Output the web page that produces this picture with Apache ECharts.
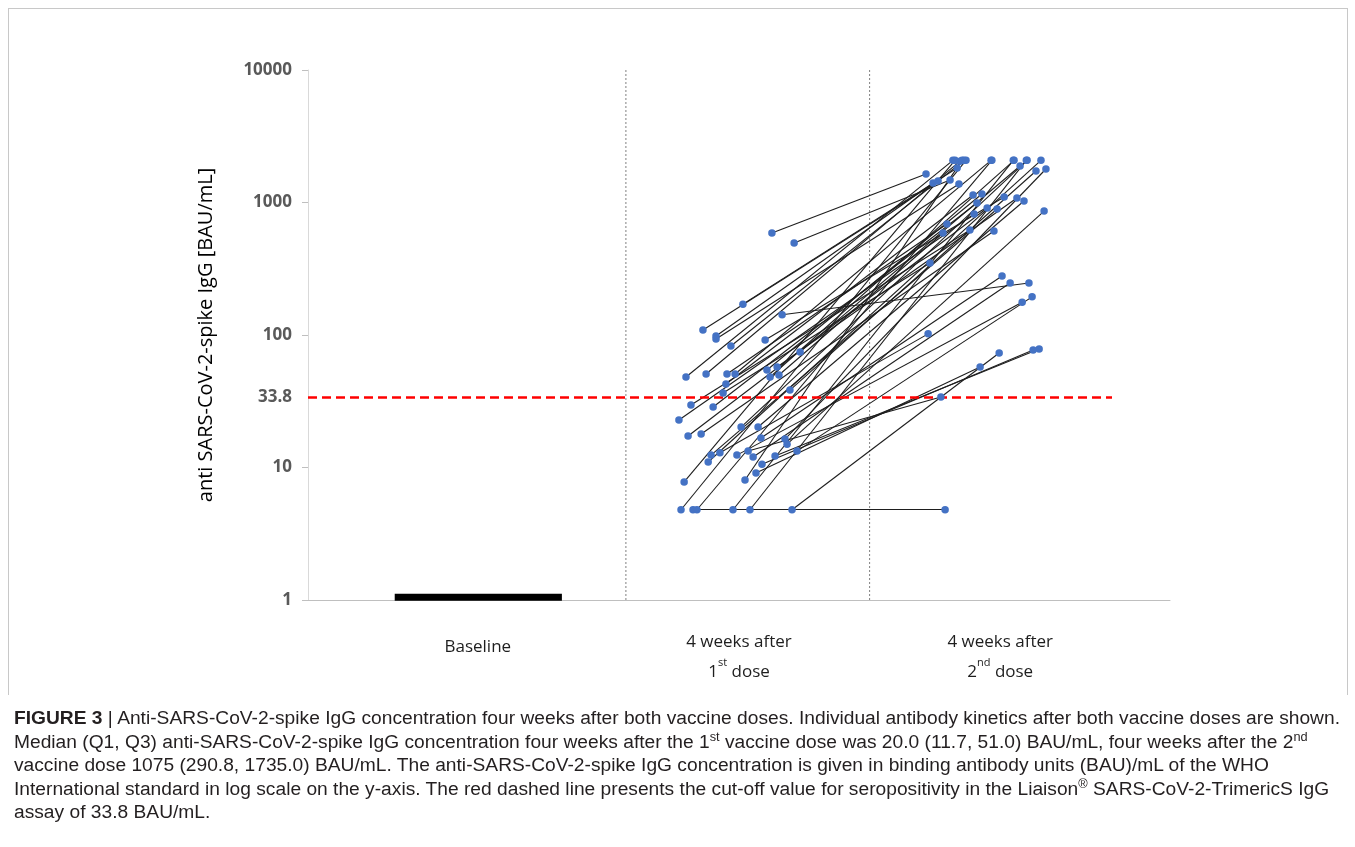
<!DOCTYPE html>
<html>
<head>
<meta charset="utf-8">
<script src="https://cdn.jsdelivr.net/npm/echarts@6/dist/echarts.min.js"></script>
<style>
  html, body { margin:0; padding:0; background:#fff; }
  #chart { position:absolute; left:0; top:0; width:1355px; height:847px; }
  #frame { position:absolute; left:8px; top:8px; width:1338px; height:686px; border:1px solid #c8c8c8; border-bottom:none; pointer-events:none; }
  #cap { position:absolute; left:14px; top:707px; font-family:"Liberation Sans",Arial,sans-serif; font-size:18px; line-height:23.5px; color:#231f20; white-space:nowrap; transform-origin:0 0; }
  #cap sup { font-size:12px; line-height:0; vertical-align:7px; }
  #cap b { font-weight:bold; }
</style>
</head>
<body>
<div id="chart"></div>
<div id="frame"></div>
<div id="cap">
<div id="cl1"><b>FIGURE 3</b> | Anti-SARS-CoV-2-spike IgG concentration four weeks after both vaccine doses. Individual antibody kinetics after both vaccine doses are shown.</div>
<div>Median (Q1, Q3) anti-SARS-CoV-2-spike IgG concentration four weeks after the 1<sup>st</sup> vaccine dose was 20.0 (11.7, 51.0) BAU/mL, four weeks after the 2<sup>nd</sup></div>
<div>vaccine dose 1075 (290.8, 1735.0) BAU/mL. The anti-SARS-CoV-2-spike IgG concentration is given in binding antibody units (BAU)/mL of the WHO</div>
<div>International standard in log scale on the y-axis. The red dashed line presents the cut-off value for seropositivity in the Liaison<sup>®</sup> SARS-CoV-2-TrimericS IgG</div>
<div>assay of 33.8 BAU/mL.</div>
</div>
<script>
// ---- data ----
const categories = ['Baseline', '4 weeks after\n1{s|st} dose', '4 weeks after\n2{s|nd} dose'];
const categoryPositions = [1, 2, 3];
const yTickLabels = [1, 10, 33.8, 100, 1000, 10000];
const cutoff = 33.8;
const separators = [1.567, 2.5];
const baselineBar = { from: 0.682, to: 1.322, value: 1.05 };

// x positions and values after 1st dose
const x1 = [2.126, 2.211, 2.015, 2.165, 1.862, 1.912, 1.912, 1.969, 2.100, 2.234,
            1.797, 1.874, 1.954, 1.985, 2.107, 2.146, 2.119, 2.153, 1.950, 1.939,
            2.195, 1.816, 1.901, 1.770, 1.805, 1.855, 2.008, 2.073, 2.084, 2.176,
            2.184, 2.222, 1.893, 1.927, 1.882, 1.992, 2.035, 2.054, 2.138, 2.088,
            2.065, 2.023, 1.790, 1.778, 1.824, 1.839, 1.977, 2.042, 2.203];
const y1 = [589, 495, 171, 142, 109, 98.3, 93.3, 82.6, 91.7, 74.5,
            48.2, 50.8, 50.8, 50.8, 54.4, 57.3, 48.2, 49.9, 42.7, 36.5,
            38.4, 29.6, 28.6, 22.8, 17.3, 17.9, 20.2, 20.2, 16.7, 16.4,
            15.0, 13.3, 12.4, 12.9, 11.0, 12.4, 13.3, 12.0, 12.2, 10.6,
            9.08, 8.05, 7.78, 4.8, 4.8, 4.8, 4.8, 4.8, 4.8];
// x positions and values after 2nd dose
const x2 = [2.716, 2.808, 2.835, 3.110, 2.762, 2.743, 2.842, 2.861, 3.015, 3.076,
            2.819, 2.846, 2.796, 2.965, 2.930, 3.064, 3.053, 2.781, 2.896, 2.731,
            3.137, 2.884, 2.911, 2.900, 2.950, 2.976, 3.103, 3.091, 3.007, 3.175,
            3.168, 3.122, 2.988, 2.724, 3.156, 3.084, 2.773, 3.038, 3.149, 3.126,
            2.923, 2.854, 2.827, 2.869, 2.789, 2.968, 3.050, 3.100, 2.996];
const y2 = [1642, 1479, 1821, 247, 1454, 1404, 1380, 2080, 1101, 1886,
            2080, 2050, 688, 2080, 1159, 1082, 2080, 589, 1140, 349,
            1729, 620, 991, 818, 908, 609, 2080, 1026, 279, 1790,
            862, 194, 893, 102, 2080, 177, 34.0, 247, 78.3, 77.1,
            57.3, 2080, 2080, 2080, 4.8, 2080, 2080, 2080, 73.1];

// ---- chart ----
const chart = echarts.init(document.getElementById('chart'), null, { renderer: 'canvas' });
const segs = x1.map((_, i) => ({ coords: [[x1[i], y1[i]], [x2[i], y2[i]]] }));
const pts = x1.map((_, i) => [x1[i], y1[i]]).concat(x2.map((_, i) => [x2[i], y2[i]]));

const series = [];
separators.forEach(s => series.push({
  type: 'line', data: [[s, 1], [s, 10000]], symbol: 'none', silent: true,
  lineStyle: { color: '#808080', width: 1, type: [2, 2] }, z: 1
}));
series.push({
  type: 'line', data: [[baselineBar.from, baselineBar.value], [baselineBar.to, baselineBar.value]],
  symbol: 'none', silent: true, lineStyle: { color: '#000', width: 7, cap: 'butt' }, z: 3
});
series.push({
  type: 'lines', coordinateSystem: 'cartesian2d', data: segs, silent: true,
  lineStyle: { color: '#1e1e1e', width: 1.1, opacity: 1, curveness: 0 }, z: 2
});
series.push({
  type: 'line', data: [[0.35, cutoff], [3.428, cutoff]], symbol: 'none', silent: true,
  lineStyle: { color: '#ff0000', width: 2.5, type: [9, 5] }, z: 4
});
series.push({
  type: 'scatter', data: pts, symbol: 'circle', symbolSize: 7.5, silent: true,
  itemStyle: { color: '#4472C4', opacity: 1 }, z: 5
});

chart.setOption({
  animation: false,
  grid: { left: 308, right: 185, top: 70, bottom: 247 },
  xAxis: {
    type: 'value', min: 0.35, max: 3.65,
    splitLine: { show: false },
    axisLine: { show: true, lineStyle: { color: '#bfbfbf', width: 1 } },
    axisTick: { show: false },
    axisLabel: {
      customValues: categoryPositions,
      formatter: v => {
        const i = Math.round(v) - 1;
        return i === 0 ? '{b|' + categories[0] + '}' : categories[i];
      },
      margin: 27, fontSize: 17, lineHeight: 30, color: '#1e1e1e', fontFamily: 'Open Sans',
      rich: {
        s: { fontSize: 11, lineHeight: 22, verticalAlign: 'top', color: '#1e1e1e', fontFamily: 'Open Sans' },
        b: { fontSize: 17, lineHeight: 30, padding: [10, 0, 0, 0], color: '#1e1e1e', fontFamily: 'Open Sans' }
      }
    }
  },
  yAxis: {
    type: 'log', logBase: 10, min: 1, max: 10000,
    name: 'anti SARS-CoV-2-spike IgG [BAU/mL]', nameLocation: 'middle', nameGap: 92,
    nameTextStyle: { fontSize: 20, color: '#000', fontFamily: 'Open Sans' },
    splitLine: { show: false },
    axisLine: { show: true, lineStyle: { color: '#d9d9d9', width: 1 } },
    axisTick: { show: true, length: 6, customValues: [1, 10, 100, 1000, 10000], lineStyle: { color: '#bfbfbf' } },
    axisLabel: {
      customValues: yTickLabels, margin: 16,
      formatter: v => String(v),
      fontSize: 17, fontWeight: 'bold', color: '#595959', fontFamily: 'Open Sans'
    }
  },
  series: series
});

// fit caption width
(function () {
  const cap = document.getElementById('cap');
  const l1 = document.getElementById('cl1');
  const span = document.createElement('span');
  span.innerHTML = l1.innerHTML;
  l1.innerHTML = '';
  l1.appendChild(span);
  const w = span.getBoundingClientRect().width;
  if (w > 0) cap.style.transform = 'scaleX(' + (1326 / w) + ')';
})();
</script>
</body>
</html>
